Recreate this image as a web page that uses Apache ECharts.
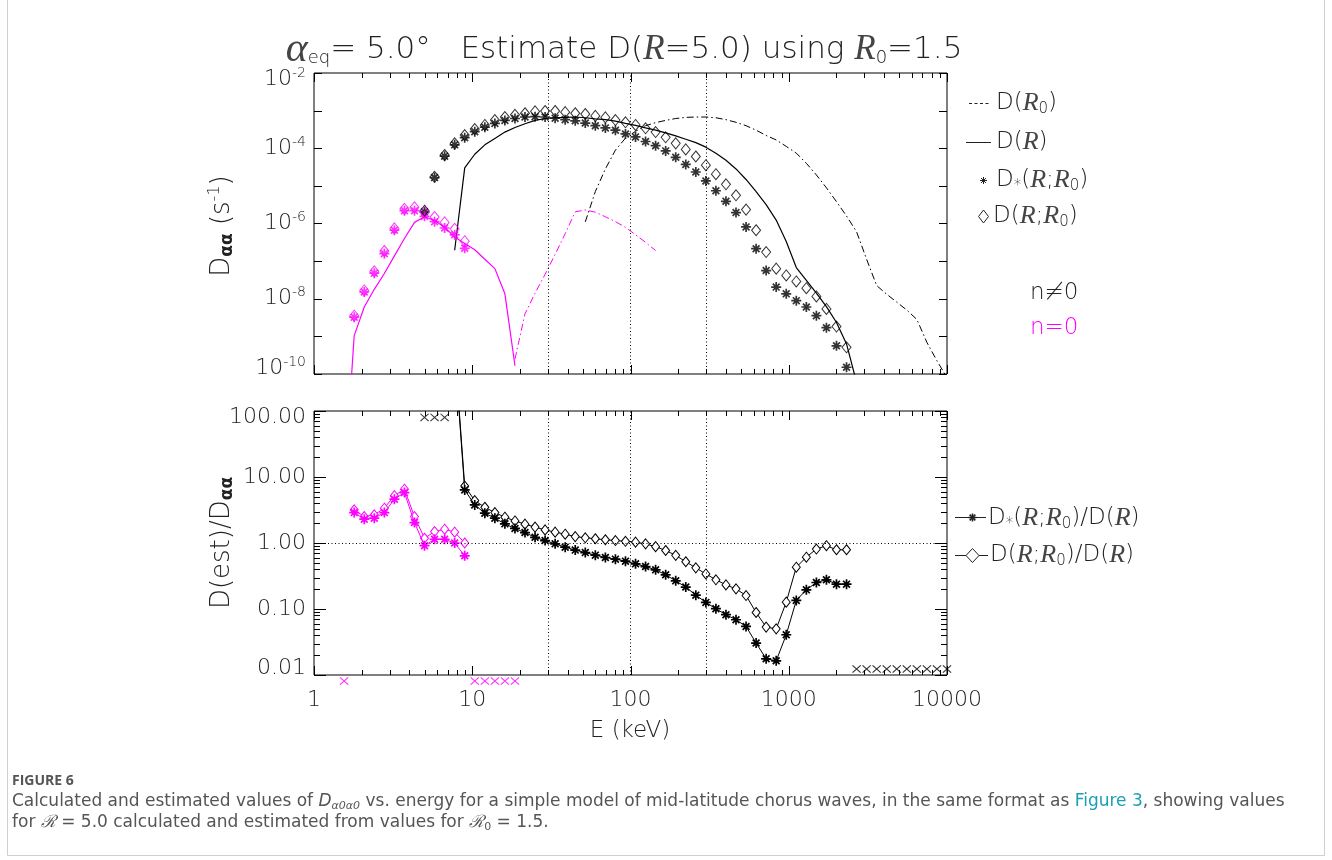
<!DOCTYPE html>
<html>
<head>
<meta charset="utf-8">
<title>Figure 6</title>
<script src="https://cdn.jsdelivr.net/npm/echarts@6/dist/echarts.min.js"></script>
<style>
    html, body { margin: 0; padding: 0; background: #fff; }
    #main { width: 1332px; height: 860px; }
</style>
</head>
<body>
<div id="main"></div>
<script>
// energy grid in keV (64 log-spaced points)
var energy = [1.000, 1.158, 1.340, 1.551, 1.795, 2.078, 2.404, 2.783, 3.221, 3.728,
    4.315, 4.994, 5.780, 6.690, 7.743, 8.962, 10.37, 12.01, 13.90, 16.08,
    18.62, 21.54, 24.94, 28.86, 33.40, 38.66, 44.75, 51.79, 59.95, 69.38,
    80.30, 92.95, 107.6, 124.5, 144.1, 166.8, 193.1, 223.5, 258.7, 299.4,
    346.5, 401.1, 464.2, 537.3, 621.9, 719.7, 833.0, 964.2, 1116, 1292,
    1495, 1730, 2003, 2318, 2683, 3105, 3594, 4160, 4814, 5572,
    6449, 7464, 8639, 10000];

// top panel, n != 0 (black). *From = index of the first point in energy
var dr0BlackFrom = 27;
var dr0Black = [1.10e-6, 7.08e-6, 2.82e-5, 8.91e-5, 1.86e-4, 2.82e-4, 3.98e-4, 4.79e-4, 5.50e-4, 6.17e-4,
    6.61e-4, 6.76e-4, 6.76e-4, 6.46e-4, 5.75e-4, 4.90e-4, 3.98e-4, 3.02e-4, 2.19e-4, 1.66e-4,
    1.12e-4, 7.41e-5, 3.98e-5, 1.95e-5, 8.91e-6, 3.80e-6, 1.58e-6, 6.03e-7, 1.12e-7, 2.24e-8,
    1.32e-8, 8.13e-9, 5.01e-9, 2.82e-9, 6.92e-10, 2.24e-10, 8.0e-11];
var drBlackFrom = 14;
var drBlack = [1.95e-7, 3.02e-5, 6.92e-5, 1.23e-4, 1.82e-4, 2.69e-4, 3.55e-4, 4.47e-4, 5.50e-4, 6.17e-4,
    6.46e-4, 6.61e-4, 6.76e-4, 6.46e-4, 6.03e-4, 5.75e-4, 5.25e-4, 4.57e-4, 4.07e-4, 3.47e-4,
    3.02e-4, 2.57e-4, 2.14e-4, 1.74e-4, 1.41e-4, 1.07e-4, 7.41e-5, 4.79e-5, 2.82e-5, 1.48e-5,
    7.08e-6, 3.16e-6, 1.23e-6, 3.31e-7, 6.76e-8, 3.09e-8, 1.41e-8, 6.17e-9, 2.34e-9, 6.31e-10, 6e-11];
var dStarBlackFrom = 11;
var dStarBlack = [2.04e-6, 1.66e-5, 6.17e-5, 1.23e-4, 1.91e-4, 2.75e-4, 3.63e-4, 4.57e-4, 5.50e-4, 6.17e-4,
    6.76e-4, 6.92e-4, 6.76e-4, 6.31e-4, 5.75e-4, 5.37e-4, 4.68e-4, 3.98e-4, 3.47e-4, 3.02e-4,
    2.40e-4, 2.00e-4, 1.51e-4, 1.17e-4, 8.51e-5, 5.75e-5, 3.72e-5, 2.34e-5, 1.35e-5, 7.41e-6,
    3.89e-6, 1.95e-6, 8.13e-7, 2.14e-7, 5.62e-8, 2.04e-8, 1.35e-8, 8.91e-9, 6.03e-9, 3.55e-9,
    1.70e-9, 5.62e-10, 1.51e-10];
var dEstBlackFrom = 11;
var dEstBlack = [2.19e-6, 1.74e-5, 6.61e-5, 1.35e-4, 2.24e-4, 3.24e-4, 4.17e-4, 5.62e-4, 6.76e-4, 7.76e-4,
    8.51e-4, 9.55e-4, 9.77e-4, 9.77e-4, 9.12e-4, 8.51e-4, 8.13e-4, 7.24e-4, 6.61e-4, 5.62e-4,
    4.90e-4, 4.17e-4, 3.39e-4, 2.69e-4, 1.95e-4, 1.35e-4, 9.33e-5, 6.03e-5, 3.55e-5, 2.04e-5,
    1.10e-5, 5.62e-6, 2.34e-6, 6.61e-7, 1.74e-7, 6.31e-8, 4.17e-8, 2.88e-8, 1.91e-8, 1.15e-8,
    5.37e-9, 1.82e-9, 5.13e-10];

// top panel, n = 0 (magenta)
var dr0MagFrom = 20;
var dr0Mag = [2.5e-10, 3.98e-9, 1.41e-8, 4.47e-8, 1.51e-7, 5.37e-7, 2.04e-6, 2.29e-6, 2.00e-6, 1.51e-6,
    1.12e-6, 7.94e-7, 5.01e-7, 3.16e-7, 1.91e-7];
var drMagFrom = 3;
var drMag = [1e-13, 1.05e-9, 6.03e-9, 1.78e-8, 4.68e-8, 1.38e-7, 3.98e-7, 1.07e-6, 1.51e-6, 1.20e-6,
    7.94e-7, 4.37e-7, 2.95e-7, 2.00e-7, 1.12e-7, 6.31e-8, 1.35e-8, 1.66e-10];
var dStarMagFrom = 4;
var dStarMag = [3.24e-9, 1.51e-8, 4.79e-8, 1.58e-7, 6.61e-7, 2.19e-6, 2.19e-6, 1.55e-6, 1.12e-6, 7.59e-7,
    5.01e-7, 2.19e-7];
var dEstMagFrom = 4;
var dEstMag = [3.55e-9, 1.66e-8, 5.37e-8, 1.86e-7, 7.41e-7, 2.45e-6, 2.69e-6, 2.00e-6, 1.48e-6, 1.07e-6,
    7.24e-7, 3.39e-7];

// bottom panel ratios
var ratioStarBlackFrom = 14;
var ratioStarBlack = [800, 6.37, 3.78, 2.83, 2.38, 1.95, 1.66, 1.44, 1.22, 1.09,
    0.97, 0.865, 0.78, 0.716, 0.654, 0.603, 0.569, 0.531, 0.483, 0.44,
    0.392, 0.33, 0.267, 0.215, 0.162, 0.126, 0.101, 0.082, 0.0687, 0.0544,
    0.0305, 0.0176, 0.0164, 0.0407, 0.135, 0.195, 0.252, 0.277, 0.238, 0.238];
var ratioEstBlackFrom = 14;
var ratioEstBlack = [900, 7.3, 4.39, 3.48, 2.89, 2.46, 2.16, 1.93, 1.74, 1.58,
    1.46, 1.36, 1.25, 1.20, 1.16, 1.12, 1.09, 1.06, 1.03, 0.97,
    0.88, 0.77, 0.65, 0.52, 0.42, 0.34, 0.277, 0.232, 0.202, 0.160,
    0.0885, 0.0532, 0.050, 0.127, 0.43, 0.61, 0.81, 0.91, 0.79, 0.79];
var ratioStarMagFrom = 4;
var ratioStarMag = [2.89, 2.30, 2.38, 2.89, 4.61, 5.80, 2.04, 0.91, 1.14, 1.14, 1.00, 0.64];
var ratioEstMagFrom = 4;
var ratioEstMag = [3.18, 2.51, 2.67, 3.37, 5.22, 6.53, 2.51, 1.18, 1.49, 1.62, 1.46, 1.00];

// "x" flags where the ratio is undefined (drawn at the panel edges)
var flagBlackHighIdx = [11, 12, 13];
var flagBlackHighVal = 80;
var flagBlackLowIdx = [54, 55, 56, 57, 58, 59, 60, 61, 62, 63];
var flagBlackLowVal = 0.0123;
var flagMagIdx = [3, 16, 17, 18, 19, 20];
var flagMagVal = 0.0081;

var xTickLabels = [1, 10, 100, 1000, 10000];
var refEnergies = [30, 100, 300];

function pairs(from, vals) {
    var out = [];
    for (var i = 0; i < vals.length; i++) out.push([energy[from + i], vals[i]]);
    return out;
}
function flags(idx, val) {
    return idx.map(function (k) { return [energy[k], val]; });
}

var FONT = '"DejaVu Sans", sans-serif';
var SERIF = '"Liberation Serif", "DejaVu Serif", serif';
var INK = '#222';
var RINK = '#444';
var MAG = '#ff00ff';
var STAR = 'path://M0 8.3H20V11.7H0Z M8.3 0H11.7V20H8.3Z M2.0 4.4L4.4 2.0L18.0 15.6L15.6 18.0Z M15.6 2.0L18.0 4.4L4.4 18.0L2.0 15.6Z';
var CROSS = 'path://M0 1.8L1.8 0L20 18.2L18.2 20Z M18.2 0L20 1.8L1.8 20L0 18.2Z';
var DASHDOT = [7, 3, 1.5, 3];

// tick marks (inside the box, on all four sides)
var xTicks = [];
xTickLabels.forEach(function (d) {
    if (d === 10000) { xTicks.push([d, 1]); return; }
    for (var m = 1; m <= 9; m++) xTicks.push([d * m, m === 1 ? 1 : 0]);
});
var yTicksTop = [];
for (var e = -10; e <= -2; e++) yTicksTop.push([Math.pow(10, e), 1]);
var yTicksBot = [];
[0.01, 0.1, 1, 10].forEach(function (d) {
    for (var m = 1; m <= 9; m++) yTicksBot.push([d * m, m === 1 ? 1 : 0]);
});
yTicksBot.push([100, 1]);

function xTickSeries(ai, yLo, yHi, major, minor) {
    return {
        type: 'custom', xAxisIndex: ai, yAxisIndex: ai, silent: true, z: 6,
        data: xTicks.map(function (t) { return [t[0], yLo, t[1]]; }),
        renderItem: function (params, api) {
            var len = api.value(2) ? major : minor;
            var b = api.coord([api.value(0), yLo]);
            var t = api.coord([api.value(0), yHi]);
            var x = Math.round(b[0]) + 0.5;
            var s = { stroke: '#000', lineWidth: 1 };
            return { type: 'group', children: [
                { type: 'line', shape: { x1: x, y1: b[1], x2: x, y2: b[1] - len }, style: s },
                { type: 'line', shape: { x1: x, y1: t[1], x2: x, y2: t[1] + len }, style: s }
            ] };
        }
    };
}
function yTickSeries(ai, ticks, major, minor) {
    return {
        type: 'custom', xAxisIndex: ai, yAxisIndex: ai, silent: true, z: 6,
        data: ticks.map(function (t) { return [1, t[0], t[1]]; }),
        renderItem: function (params, api) {
            var len = api.value(2) ? major : minor;
            var l = api.coord([1, api.value(1)]);
            var r = api.coord([10000, api.value(1)]);
            var y = Math.round(l[1]) + 0.5;
            var s = { stroke: '#000', lineWidth: 1 };
            return { type: 'group', children: [
                { type: 'line', shape: { x1: l[0], y1: y, x2: l[0] + len, y2: y }, style: s },
                { type: 'line', shape: { x1: r[0], y1: y, x2: r[0] - len, y2: y }, style: s }
            ] };
        }
    };
}

function dotted(extra) {
    return {
        silent: true, symbol: ['none', 'none'], animation: false,
        label: { show: false },
        lineStyle: { color: '#000', width: 1, type: [1, 2.5] },
        data: refEnergies.map(function (v) { return { xAxis: v }; }).concat(extra || [])
    };
}

var base = { fontFamily: FONT, fontSize: 22, fontWeight: 300, color: INK, fill: INK };
function st(o) { return Object.assign({}, base, o); }
var rich = {
    t: st({ fontSize: 23 }),
    r: st({ fontFamily: SERIF, fontStyle: 'italic', fontWeight: 'normal', fontSize: 26, color: RINK, fill: RINK }),
    s: st({ fontSize: 15, padding: [12, 0, 0, 0] }),
    m: st({ fontSize: 23, color: MAG, fill: MAG })
};

function label(x, y, text) {
    return {
        type: 'text', x: x, y: y, silent: true,
        style: { text: text, rich: rich, align: 'left', verticalAlign: 'middle' }
    };
}
// small asterisk built from four strokes (legend)
function asterisk(cx, cy, r, w) {
    var d = r * 0.7071;
    var s = { stroke: INK, lineWidth: w };
    return { type: 'group', silent: true, children: [
        { type: 'line', shape: { x1: cx - r, y1: cy, x2: cx + r, y2: cy }, style: s },
        { type: 'line', shape: { x1: cx, y1: cy - r, x2: cx, y2: cy + r }, style: s },
        { type: 'line', shape: { x1: cx - d, y1: cy - d, x2: cx + d, y2: cy + d }, style: s },
        { type: 'line', shape: { x1: cx - d, y1: cy + d, x2: cx + d, y2: cy - d }, style: s }
    ] };
}

var CAP = '"DejaVu Sans", sans-serif';
var capRich = {
    c: { fontFamily: CAP, fontSize: 17, fill: '#555', color: '#555' },
    i: { fontFamily: CAP, fontSize: 17, fontStyle: 'italic', fill: '#555', color: '#555' },
    is: { fontFamily: CAP, fontSize: 11, fontStyle: 'italic', fill: '#555', color: '#555', padding: [9, 0, 0, 0] },
    l: { fontFamily: CAP, fontSize: 17, fill: '#1a9fb5', color: '#1a9fb5' },
    k: { fontFamily: '"DejaVu Serif", serif', fontSize: 17, fontStyle: 'italic', fill: '#555', color: '#555' },
    cs: { fontFamily: CAP, fontSize: 11, fill: '#555', color: '#555', padding: [9, 0, 0, 0] }
};

var chart = echarts.init(document.getElementById('main'));

var option = {
    backgroundColor: '#fff',
    animation: false,
    grid: [
        { left: 314, top: 73, width: 633, height: 301, show: true, borderColor: '#000', borderWidth: 1 },
        { left: 314, top: 411, width: 633, height: 264, show: true, borderColor: '#000', borderWidth: 1 }
    ],
    xAxis: [
        { gridIndex: 0, type: 'log', logBase: 10, min: 1, max: 10000,
          axisLine: { show: false }, axisTick: { show: false }, axisLabel: { show: false }, splitLine: { show: false } },
        { gridIndex: 1, type: 'log', logBase: 10, min: 1, max: 10000,
          axisLine: { show: false }, axisTick: { show: false }, splitLine: { show: false },
          axisLabel: { show: true, margin: 14, fontFamily: FONT, fontSize: 22, fontWeight: 300, color: INK,
              formatter: function (v) { return String(Math.round(v)); } } }
    ],
    yAxis: [
        { gridIndex: 0, type: 'log', logBase: 10, min: 1e-10, max: 1e-2,
          axisLine: { show: false }, axisTick: { show: false }, splitLine: { show: false },
          axisLabel: {
              margin: 8,
              formatter: function (v) {
                  var e = Math.round(Math.log10(v));
                  if (e % 2) return '';
                  var tag = e === -2 ? 'h' : (e === -10 ? 'l' : 'n');
                  return '{b' + tag + '|10}{s' + tag + '|' + e + '}';
              },
              rich: {
                  bn: st({}), sn: st({ fontSize: 14, padding: [0, 0, 12, 0] }),
                  bh: st({ padding: [12, 0, 0, 0] }), sh: st({ fontSize: 14 }),
                  bl: st({ padding: [0, 0, 12, 0] }), sl: st({ fontSize: 14, padding: [0, 0, 24, 0] })
              }
          } },
        { gridIndex: 1, type: 'log', logBase: 10, min: 0.01, max: 100,
          axisLine: { show: false }, axisTick: { show: false }, splitLine: { show: false },
          axisLabel: {
              margin: 8,
              formatter: function (v) {
                  var s = v.toFixed(2);
                  if (v > 50) return '{h|' + s + '}';
                  if (v < 0.02) return '{l|' + s + '}';
                  return '{n|' + s + '}';
              },
              rich: {
                  n: st({}), h: st({ padding: [12, 0, 0, 0] }), l: st({ padding: [0, 0, 14, 0] })
              }
          } }
    ],
    series: [
        // ---- top panel ----
        { name: 'D(R0)', type: 'line', xAxisIndex: 0, yAxisIndex: 0, data: pairs(dr0BlackFrom, dr0Black),
          symbol: 'none', lineStyle: { color: '#000', width: 1, type: DASHDOT }, z: 2 },
        { name: 'D(R)', type: 'line', xAxisIndex: 0, yAxisIndex: 0, data: pairs(drBlackFrom, drBlack),
          symbol: 'none', lineStyle: { color: '#000', width: 1.2 }, z: 2, markLine: dotted() },
        { name: 'D(R0) n=0', type: 'line', xAxisIndex: 0, yAxisIndex: 0, data: pairs(dr0MagFrom, dr0Mag),
          symbol: 'none', lineStyle: { color: MAG, width: 1, type: DASHDOT }, z: 2 },
        { name: 'D(R) n=0', type: 'line', xAxisIndex: 0, yAxisIndex: 0, data: pairs(drMagFrom, drMag),
          symbol: 'none', lineStyle: { color: MAG, width: 1.2 }, z: 2 },
        { name: 'D*(R;R0)', type: 'scatter', xAxisIndex: 0, yAxisIndex: 0, data: pairs(dStarBlackFrom, dStarBlack),
          symbol: STAR, symbolSize: 10, itemStyle: { color: '#000' }, z: 3 },
        { name: 'D(R;R0)', type: 'scatter', xAxisIndex: 0, yAxisIndex: 0, data: pairs(dEstBlackFrom, dEstBlack),
          symbol: 'diamond', symbolSize: [9, 11],
          itemStyle: { color: 'rgba(0,0,0,0)', borderColor: '#000', borderWidth: 1 }, z: 4 },
        { name: 'D*(R;R0) n=0', type: 'scatter', xAxisIndex: 0, yAxisIndex: 0, data: pairs(dStarMagFrom, dStarMag),
          symbol: STAR, symbolSize: 10, itemStyle: { color: MAG }, z: 3 },
        { name: 'D(R;R0) n=0', type: 'scatter', xAxisIndex: 0, yAxisIndex: 0, data: pairs(dEstMagFrom, dEstMag),
          symbol: 'diamond', symbolSize: [9, 11],
          itemStyle: { color: 'rgba(0,0,0,0)', borderColor: MAG, borderWidth: 1 }, z: 4 },
        xTickSeries(0, 1e-10, 1e-2, 9, 5),
        yTickSeries(0, yTicksTop, 8, 8),

        // ---- bottom panel ----
        { name: 'D(R;R0)/D(R)', type: 'line', xAxisIndex: 1, yAxisIndex: 1,
          data: pairs(ratioEstBlackFrom, ratioEstBlack).map(function (p, i) {
              return i === 0 ? { value: p, symbol: 'none' } : p;
          }),
          symbol: 'diamond', symbolSize: [8, 10], showAllSymbol: true,
          lineStyle: { color: '#000', width: 1 },
          itemStyle: { color: '#fff', borderColor: '#000', borderWidth: 1 }, z: 2,
          markLine: dotted([{ yAxis: 1 }]) },
        { name: 'D*(R;R0)/D(R)', type: 'line', xAxisIndex: 1, yAxisIndex: 1,
          data: pairs(ratioStarBlackFrom, ratioStarBlack).map(function (p, i) {
              return i === 0 ? { value: p, symbol: 'none' } : p;
          }),
          symbol: STAR, symbolSize: 10, showAllSymbol: true,
          lineStyle: { color: '#000', width: 1 }, itemStyle: { color: '#000' }, z: 3 },
        { name: 'D(R;R0)/D(R) n=0', type: 'line', xAxisIndex: 1, yAxisIndex: 1, data: pairs(ratioEstMagFrom, ratioEstMag),
          symbol: 'diamond', symbolSize: [8, 10], showAllSymbol: true,
          lineStyle: { color: MAG, width: 1 },
          itemStyle: { color: '#fff', borderColor: MAG, borderWidth: 1 }, z: 2 },
        { name: 'D*(R;R0)/D(R) n=0', type: 'line', xAxisIndex: 1, yAxisIndex: 1, data: pairs(ratioStarMagFrom, ratioStarMag),
          symbol: STAR, symbolSize: 10, showAllSymbol: true,
          lineStyle: { color: MAG, width: 1 }, itemStyle: { color: MAG }, z: 3 },
        { name: 'undefined', type: 'scatter', xAxisIndex: 1, yAxisIndex: 1, clip: false,
          data: flags(flagBlackHighIdx, flagBlackHighVal).concat(flags(flagBlackLowIdx, flagBlackLowVal)),
          symbol: CROSS, symbolSize: [9, 8], itemStyle: { color: '#000' }, z: 3 },
        { name: 'undefined n=0', type: 'scatter', xAxisIndex: 1, yAxisIndex: 1, clip: false,
          data: flags(flagMagIdx, flagMagVal),
          symbol: CROSS, symbolSize: [9, 8], itemStyle: { color: MAG }, z: 3 },
        xTickSeries(1, 0.01, 100, 9, 5),
        yTickSeries(1, yTicksBot, 12, 6)
    ],
    graphic: [
        // frame
        { type: 'rect', silent: true, shape: { x: 7.5, y: -2, width: 1317, height: 857.5 },
          style: { fill: 'none', stroke: '#cfcfcf', lineWidth: 1 } },
        // title
        { type: 'text', x: 624, y: 50, silent: true, style: {
            text: '{a|α}{s|eq}{t|= 5.0°   Estimate D(}{r|R}{t|=5.0) using }{r|R}{s|0}{t|=1.5}',
            align: 'center', verticalAlign: 'middle',
            rich: {
                t: st({ fontSize: 31 }),
                a: st({ fontFamily: SERIF, fontStyle: 'italic', fontWeight: 'normal', fontSize: 42, color: RINK, fill: RINK }),
                r: st({ fontFamily: SERIF, fontStyle: 'italic', fontWeight: 'normal', fontSize: 35, color: RINK, fill: RINK }),
                s: st({ fontSize: 18, padding: [16, 0, 0, 0] })
            } } },
        // axis titles
        { type: 'text', x: 222, y: 226, rotation: Math.PI / 2, silent: true, style: {
            text: '{t|D}{g|αα}{t| (s}{p|-1}{t|)}', align: 'center', verticalAlign: 'middle',
            rich: { t: st({ fontSize: 26 }), g: st({ fontSize: 17, fontWeight: 'bold', padding: [12, 0, 0, 0] }),
                    p: st({ fontSize: 16, padding: [0, 0, 14, 0] }) } } },
        { type: 'text', x: 222, y: 543, rotation: Math.PI / 2, silent: true, style: {
            text: '{t|D(est)/D}{g|αα}', align: 'center', verticalAlign: 'middle',
            rich: { t: st({ fontSize: 26 }), g: st({ fontSize: 17, fontWeight: 'bold', padding: [12, 0, 0, 0] }) } } },
        { type: 'text', x: 630, y: 731, silent: true, style: {
            text: 'E (keV)', align: 'center', verticalAlign: 'middle',
            fontFamily: FONT, fontSize: 23, fontWeight: 300, fill: INK } },

        // top legend
        { type: 'line', silent: true, shape: { x1: 969, y1: 103.5, x2: 991, y2: 103.5 },
          style: { stroke: INK, lineWidth: 1, lineDash: [3, 2.5] } },
        label(996, 103, '{t|D(}{r|R}{s|0}{t|)}'),
        { type: 'line', silent: true, shape: { x1: 966, y1: 142.5, x2: 991, y2: 142.5 },
          style: { stroke: INK, lineWidth: 1 } },
        label(996, 142, '{t|D(}{r|R}{t|)}'),
        asterisk(983.5, 180.5, 3.5, 1),
        label(996, 180, '{t|D}{s|*}{t|(}{r|R}{t|;}{r|R}{s|0}{t|)}'),
        { type: 'polygon', silent: true, shape: { points: [[983.5, 210], [988.5, 216.5], [983.5, 223], [978.5, 216.5]] },
          style: { fill: 'none', stroke: INK, lineWidth: 1 } },
        label(993, 216, '{t|D(}{r|R}{t|;}{r|R}{s|0}{t|)}'),
        label(1030, 293, '{t|n≠0}'),
        label(1030, 328, '{m|n=0}'),

        // bottom legend
        { type: 'line', silent: true, shape: { x1: 955, y1: 517.5, x2: 986, y2: 517.5 },
          style: { stroke: INK, lineWidth: 1 } },
        asterisk(972.5, 517.5, 4, 1.6),
        label(988, 518, '{t|D}{s|*}{t|(}{r|R}{t|;}{r|R}{s|0}{t|)/D(}{r|R}{t|)}'),
        { type: 'line', silent: true, shape: { x1: 955, y1: 555.5, x2: 988, y2: 555.5 },
          style: { stroke: INK, lineWidth: 1 } },
        { type: 'polygon', silent: true, shape: { points: [[972.5, 548.5], [979, 555.5], [972.5, 562.5], [966, 555.5]] },
          style: { fill: '#fff', stroke: INK, lineWidth: 1 } },
        label(990, 555, '{t|D(}{r|R}{t|;}{r|R}{s|0}{t|)/D(}{r|R}{t|)}'),

        // caption
        { type: 'text', x: 12, y: 781, silent: true, style: {
            text: 'FIGURE 6', align: 'left', verticalAlign: 'middle',
            fontFamily: '"Open Sans", sans-serif', fontSize: 14, fontWeight: 'bold', fill: '#555' } },
        { type: 'text', x: 12, y: 802, silent: true, style: {
            text: '{c|Calculated and estimated values of }{i|D}{is|α0α0}{c| vs. energy for a simple model of mid-latitude chorus waves, in the same format as }{l|Figure 3}{c|, showing values}',
            align: 'left', verticalAlign: 'middle', rich: capRich } },
        { type: 'text', x: 12, y: 823, silent: true, style: {
            text: '{c|for }{k|ℛ}{c| = 5.0 calculated and estimated from values for }{k|ℛ}{cs|0}{c| = 1.5.}',
            align: 'left', verticalAlign: 'middle', rich: capRich } }
    ]
};

chart.setOption(option);
</script>
</body>
</html>
